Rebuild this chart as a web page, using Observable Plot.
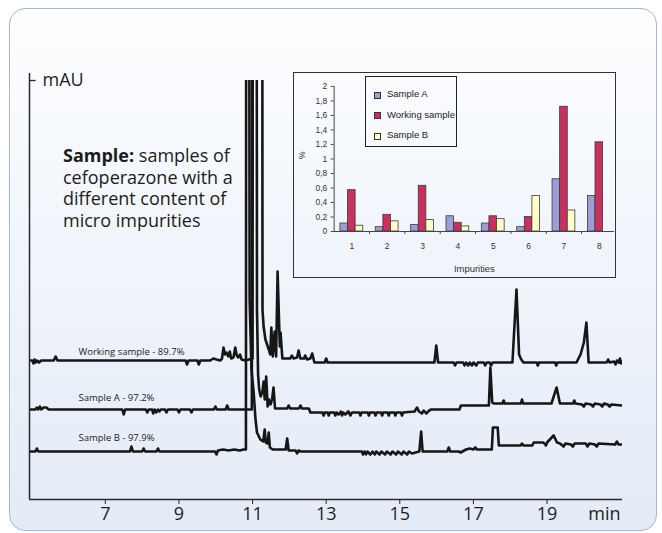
<!DOCTYPE html>
<html>
<head>
<meta charset="utf-8">
<script src="https://cdn.jsdelivr.net/npm/d3@7"></script>
<script src="https://cdn.jsdelivr.net/npm/@observablehq/plot@0.6"></script>
<style>
  body { margin: 0; background: #fff; }
  #wrap { position: relative; width: 662px; height: 533px; overflow: hidden; font-family: "Open Sans", sans-serif; }
  #panel { position: absolute; left: 9px; top: 8px; width: 646px; height: 521px; border: 1.5px solid #a3b8dc; border-radius: 16px;
           background: linear-gradient(#fdfeff, #e3ebf7); }
  #main { position: absolute; left: 0; top: 0; }
  #note { position: absolute; left: 63px; top: 145px; font-size: 18px; line-height: 21.7px; color: #1c1c1c; white-space: nowrap; }
  #note b { font-weight: 700; }
  #inset { position: absolute; left: 293px; top: 72px; width: 323px; height: 206px; border: 1px solid #333; box-sizing: border-box; overflow: hidden; }
  #inset svg { position: absolute; left: -1px; top: -1px; }
  #legend { position: absolute; left: 71px; top: 3px; width: 92px; height: 71px; border: 1px solid #222; box-sizing: border-box;
            font-family: "Liberation Sans", Arial, sans-serif; font-size: 9.5px; color: #222; }
  .lrow { position: absolute; left: 0; height: 12px; line-height: 12px; white-space: nowrap; }
  .sw { position: absolute; left: 8px; top: 3.5px; width: 5px; height: 5px; border: 1px solid #333; box-sizing: content-box; }
  .lt { position: absolute; left: 21px; top: 0; }
</style>
</head>
<body>
<div id="wrap">
  <div id="panel"></div>
  <div id="main"></div>
  <div id="note"><b>Sample:</b> samples of<br>cefoperazone with a<br>different content of<br>micro impurities</div>
  <div id="inset"><div id="legend"></div></div>
</div>
<script>
// ---------- Chromatogram data (time in min, signal in mAU, arbitrary offset per trace) ----------
const traceNames = ["Working sample", "Sample A", "Sample B"];
const purities = ["89.7%", "97.2%", "97.9%"];
const xTicks = [7, 9, 11, 13, 15, 17, 19];

const workingTrace = [
  [4.94,139],[5.02,139],[5.05,136],[5.08,140],[5.11,137],[5.15,139],[5.2,137],[5.26,139],[5.6,139],[5.65,143],[5.7,139],
  [9.18,139],[9.22,135],[9.26,139],[9.5,139],[9.54,135],[9.58,139],[9.85,139],[9.93,141],[10.02,140],[10.12,139],[10.17,141],
  [10.21,152],[10.25,145],[10.29,147],[10.34,143],[10.38,148],[10.42,141],[10.48,142],[10.53,152],[10.57,144],[10.61,142],
  [10.66,145],[10.7,140],[10.8,139],[11.0,141],[11.02,1500],[11.25,1500],[11.27,190],[11.3,173],[11.35,160],[11.44,150],
  [11.48,145],[11.51,172],[11.55,143],[11.6,168],[11.64,143],[11.68,228],[11.74,153],[11.76,167],[11.81,141],[11.85,141],
  [12.02,141],[12.07,144],[12.11,141],[12.21,142],[12.25,149],[12.3,141],[12.4,141],[12.43,144],[12.48,140],[12.57,141],
  [12.62,146],[12.68,137],[12.96,137],[13.0,141],[13.04,137],[15.94,137],[15.99,154],[16.04,137],[16.46,137],[16.5,134],
  [16.54,137],[16.72,137],[16.76,134],[16.8,137],[16.86,134],[16.9,137],[16.96,134],[17.0,137],[17.08,134],[17.12,137],
  [17.28,137],[17.32,134],[17.36,137],[17.44,137],[17.48,134],[17.52,137],[18.06,137],[18.17,210],[18.24,145],[18.3,140],
  [18.36,137],[18.72,137],[18.75,134],[18.78,137],[19.22,137],[19.25,134],[19.28,137],[19.8,137],[19.91,145],[20.0,157],
  [20.07,177],[20.13,137],[20.62,137],[20.66,140],[20.7,137],[20.82,138],[20.86,135],[20.9,139],[20.95,137],[20.98,141],
  [21.01,136],[21.04,138]
];
const sampleATrace = [
  [4.94,90],[5.1,90],[5.14,92],[5.18,90],[5.22,93],[5.26,90],[5.32,92],[5.4,92],[5.46,90],[7.46,90],[7.5,85],[7.54,90],
  [8.1,90],[8.14,87],[8.18,90],[8.27,90],[8.3,86],[8.34,90],[8.38,87],[8.43,90],[8.47,88],[8.51,90],[8.62,90],[8.66,87],
  [8.7,90],[8.96,90],[9.0,87],[9.04,90],[9.3,90],[9.34,87],[9.38,90],[9.95,90],[9.99,93],[10.03,90],[10.27,90],[10.31,94],
  [10.35,90],[10.98,90],[11.01,1500],[11.09,1500],[11.12,190],[11.15,125],[11.18,110],[11.22,103],[11.27,108],
  [11.3,118],[11.33,100],[11.37,123],[11.41,93],[11.45,100],[11.49,95],[11.53,100],[11.57,112],[11.61,91],[11.94,91],
  [11.98,94],[12.02,91],[12.26,91],[12.3,94],[12.34,91],[12.53,91],[12.57,87],[12.9,87],[12.93,84],[12.96,87],[13.04,87],
  [13.07,84],[13.1,87],[13.22,87],[13.25,84],[13.28,87],[13.34,85],[13.4,88],[13.43,84],[13.46,87],[13.52,85],[13.6,88],
  [13.66,84],[13.7,87],[13.9,87],[13.93,84],[13.96,87],[14.13,87],[14.16,84],[14.19,87],[14.31,87],[14.34,84],[14.37,87],
  [14.49,87],[14.52,84],[14.55,87],[14.67,87],[14.7,84],[14.73,87],[14.85,87],[14.88,84],[14.91,87],[15.03,87],[15.06,84],
  [15.09,87],[15.4,88],[15.47,92],[15.52,88],[15.6,86],[15.65,89],[15.72,86],[15.8,89],[15.85,90],[16.62,90],[16.66,94],
  [17.42,94],[17.46,132],[17.51,97],[17.55,96],[17.79,96],[17.82,99],[17.85,96],[18.29,96],[18.32,100],[18.35,96],
  [19.12,96],[19.26,112],[19.35,96],[19.71,96],[19.74,99],[19.77,96],[19.95,95],[20.0,93],[20.05,96],[20.2,95],[20.25,93],
  [20.3,96],[20.45,95],[20.5,93],[20.55,96],[20.65,95],[20.7,93],[20.75,95],[21.04,94]
];
const sampleBTrace = [
  [4.94,48],[5.1,48],[5.14,51],[5.18,48],[7.67,48],[7.71,53],[7.75,48],[8.0,48],[8.04,51],[8.08,48],[8.39,48],[8.43,51],
  [8.47,48],[9.98,48],[10.02,45],[10.06,49],[10.2,50],[10.35,49],[10.5,50],[10.65,49],[10.75,50],[10.82,50],[10.84,1500],
  [10.88,1500],[10.92,200],[10.97,130],[11.03,107],[11.08,80],[11.12,67],[11.21,60],[11.29,58],[11.33,70],[11.36,57],
  [11.41,56],[11.44,67],[11.47,52],[11.55,50],[11.9,50],[11.94,61],[11.98,49],[12.17,49],[12.21,46],[12.25,49],[12.3,48],
  [13.97,48],[14.0,45],[14.04,48],[14.08,45],[14.12,48],[14.2,45],[14.26,48],[14.32,45],[14.36,48],[14.45,45],[14.5,48],
  [14.6,45],[14.65,48],[14.75,45],[14.8,48],[14.9,45],[14.95,48],[15.05,45],[15.1,48],[15.2,45],[15.25,48],[15.33,46],
  [15.53,48],[15.58,68],[15.62,48],[16.29,48],[16.33,52],[16.37,48],[16.6,48],[16.65,47],[16.8,50],[16.9,51],[17.0,50],
  [17.05,52],[17.1,50],[17.5,50],[17.53,72],[17.66,72],[17.69,54],[18.28,54],[18.32,56],[18.36,54],[18.6,54],[18.64,57],
  [18.9,57],[18.97,54],[19.0,57],[19.18,64],[19.27,57],[19.35,56],[19.45,53],[19.5,56],[19.65,55],[19.7,53],[19.75,56],
  [20.05,56],[20.1,53],[20.15,56],[20.3,55],[20.35,53],[20.4,56],[20.85,55],[20.9,58],[20.94,55],[21.04,55]
];

// ---------- Inset bar chart data ----------
const impurities = [1, 2, 3, 4, 5, 6, 7, 8];
const barSeries = ["Sample A", "Working sample", "Sample B"];
const barColors = ["#9d9dd6", "#c7305f", "#fdfdc8"];
const sampleAValues = [0.11, 0.06, 0.09, 0.21, 0.11, 0.06, 0.72, 0.49];
const workingValues = [0.57, 0.23, 0.63, 0.12, 0.21, 0.20, 1.72, 1.23];
const sampleBValues = [0.08, 0.14, 0.16, 0.07, 0.17, 0.49, 0.29, null];
const insetYTicks = [0, 0.2, 0.4, 0.6, 0.8, 1, 1.2, 1.4, 1.6, 1.8, 2];

// ---------- Build rows ----------
const traces = [workingTrace, sampleATrace, sampleBTrace];
const traceRows = traces.flatMap((tr, i) => tr.map(([t, v]) => ({series: traceNames[i], t, v})));
const labelRows = traceNames.map((n, i) => ({label: `${n} - ${purities[i]}`, base: traces[i][0][1]}));

const main = Plot.plot({
  width: 662, height: 533,
  marginLeft: 29, marginRight: 40, marginTop: 80, marginBottom: 34,
  style: {background: "transparent", fontFamily: "'Open Sans', sans-serif", color: "#1e1e1e", overflow: "visible"},
  x: {domain: [4.94, 21.05]},
  y: {domain: [0, 419], axis: null},
  marks: [
    Plot.line(traceRows, {x: "t", y: "v", z: "series", stroke: "#161616", strokeWidth: 2.6, strokeLinejoin: "round", clip: true}),
    Plot.ruleX([4.94], {y1: 0, y2: 426, stroke: "#2a2a2a", strokeWidth: 1.5}),
    Plot.ruleY([0], {stroke: "#2a2a2a", strokeWidth: 1.5}),
    Plot.ruleY([419], {x1: 4.94, x2: 5.12, stroke: "#2a2a2a", strokeWidth: 1.3}),
    Plot.text(["mAU"], {x: 4.94, y: 419, dx: 13, textAnchor: "start", fontSize: 18, fill: "#1e1e1e"}),
    Plot.axisX({ticks: xTicks, tickSize: 5, tickPadding: 3, fontSize: 18, label: null, stroke: "#2a2a2a"}),
    Plot.text(["min"], {frameAnchor: "bottom-right", lineAnchor: "top", textAnchor: "end", dy: 8, dx: -2, fontSize: 18, fill: "#1e1e1e"}),
    Plot.text(labelRows.slice(0, 1), {frameAnchor: "left", y: "base", text: "label", textAnchor: "start", dx: 49, dy: -9, fontSize: 9.5, fill: "#222"}),
    Plot.text(labelRows.slice(1, 2), {frameAnchor: "left", y: "base", text: "label", textAnchor: "start", dx: 49, dy: -12, fontSize: 9.5, fill: "#222"}),
    Plot.text(labelRows.slice(2, 3), {frameAnchor: "left", y: "base", text: "label", textAnchor: "start", dx: 49, dy: -14, fontSize: 9.5, fill: "#222"})
  ]
});
document.getElementById("main").appendChild(main);

// ---------- Inset ----------
const valueSets = [sampleAValues, workingValues, sampleBValues];
const barW = 0.215;
const barRows = [];
impurities.forEach((c, ci) => {
  valueSets.forEach((vals, si) => {
    if (vals[ci] == null) return;
    const x1 = c + (si - 1.5) * barW;
    barRows.push({series: barSeries[si], x1, x2: x1 + barW, value: vals[ci]});
  });
});
const fmt = d => d === 0 ? "0" : d3.format(".1~f")(d).replace(".", ",");
const boundaries = impurities.slice(0, -1).map(c => c + 0.5);

const inset = Plot.plot({
  width: 323, height: 206,
  marginLeft: 41, marginRight: 0, marginTop: 14, marginBottom: 46,
  style: {background: "transparent", fontFamily: "'Liberation Sans', Arial, sans-serif", color: "#333"},
  x: {domain: [0.5, 8.5], range: [40.9, 325.5]},
  y: {domain: [0, 2]},
  color: {domain: barSeries, range: barColors},
  marks: [
    Plot.rect(barRows, {x1: "x1", x2: "x2", y1: 0, y2: "value", fill: "series", stroke: "#3a3a3a", strokeWidth: 0.8}),
    Plot.ruleX([0.5], {stroke: "#444", strokeWidth: 1}),
    Plot.ruleY([0], {stroke: "#444", strokeWidth: 1}),
    Plot.axisY({ticks: insetYTicks, tickSize: 3, tickPadding: 4, tickFormat: fmt, fontSize: 8.5, label: null, stroke: "#444"}),
    Plot.axisX({ticks: boundaries, tickSize: 3, tickFormat: () => "", label: null, stroke: "#444"}),
    Plot.axisX({ticks: impurities, tickSize: 0, tickPadding: 12, tickFormat: d => String(d), fontSize: 8.5, label: null}),
    Plot.text(["%"], {frameAnchor: "left", dx: -32, rotate: -90, fontSize: 8.5, fill: "#333"}),
    Plot.text(["Impurities"], {frameAnchor: "bottom", dy: 41, fontSize: 9.5, fill: "#333"})
  ]
});
document.getElementById("inset").insertBefore(inset, document.getElementById("legend"));

// legend
const legend = document.getElementById("legend");
barSeries.forEach((s, i) => {
  const row = document.createElement("div");
  row.className = "lrow";
  row.style.top = (11 + i * 20.5) + "px";
  row.style.width = "100%";
  row.innerHTML = `<span class="sw" style="background:${barColors[i]}"></span><span class="lt">${s}</span>`;
  legend.appendChild(row);
});
</script>
</body>
</html>
